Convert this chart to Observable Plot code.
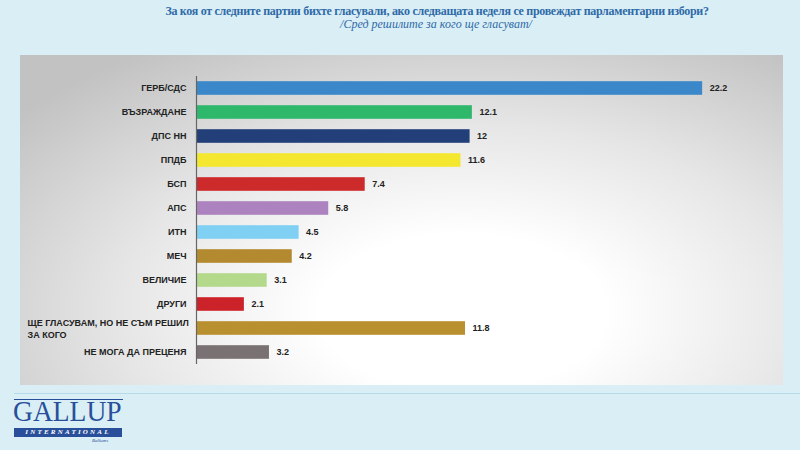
<!DOCTYPE html>
<html>
<head>
<meta charset="utf-8">
<script src="https://cdn.jsdelivr.net/npm/d3@7"></script>
<script src="https://cdn.jsdelivr.net/npm/@observablehq/plot@0.6"></script>
<style>
  html, body { margin: 0; padding: 0; }
  body { width: 800px; height: 450px; background: #d9eef5; position: relative; overflow: hidden; font-family: "Liberation Sans", Arial, sans-serif; }
  #title { position: absolute; left: 0; width: 874px; top: 4px; text-align: center; color: #2f6aa8; font-family: "Liberation Serif", serif; font-weight: bold; font-size: 12px; letter-spacing: -0.3px; }
  #subtitle { position: absolute; left: 0; width: 872px; top: 17px; text-align: center; color: #2f6aa8; font-family: "Liberation Serif", serif; font-style: italic; font-size: 12px; }
  #panel { position: absolute; left: 20px; top: 55px; width: 763px; height: 330px;
    background: radial-gradient(ellipse 75% 95% at 58% 78%, #ffffff 25%, #e6e6e6 60%, #c2c2c2 100%); }
  #sep { position: absolute; left: 14px; top: 393px; width: 786px; height: 1px; background: #b6dbe8; }
  .lg { position: absolute; }
  #lbar { left: 14px; top: 399px; width: 109px; height: 1px; background: #2a4f9a; }
  #lg { left: 13px; top: 400.5px; font-family: "Liberation Serif", serif; color: #2a4f9a; font-size: 29px; line-height: 21px; height: 21px; transform: scaleX(0.95); transform-origin: left top; }
  #li { left: 14px; top: 428px; width: 108px; height: 9px; background: #2a4f9a; color: #fff; font-family: "Liberation Serif", serif; font-style: italic; font-weight: bold; font-size: 7px; letter-spacing: 2.2px; text-align: center; line-height: 9px; }
  #lb { left: 92px; top: 438px; font-family: "Liberation Serif", serif; font-style: italic; font-size: 5px; line-height: 6px; color: #2a4f9a; }
</style>
</head>
<body>
<div id="title">За коя от следните партии бихте  гласували,  ако следващата неделя се провеждат парламентарни избори?</div>
<div id="subtitle">/Сред решилите за кого ще гласуват/</div>
<div id="panel"></div>
<div id="sep"></div>
<div class="lg" id="lbar"></div>
<div class="lg" id="lg">GALLUP</div>
<div class="lg" id="li">INTERNATIONAL</div>
<div class="lg" id="lb">Balkans</div>
<script>
const parties = ["ГЕРБ/СДС", "ВЪЗРАЖДАНЕ", "ДПС НН", "ППДБ", "БСП", "АПС", "ИТН", "МЕЧ", "ВЕЛИЧИЕ", "ДРУГИ", "ЩЕ ГЛАСУВАМ, НО НЕ СЪМ РЕШИЛ\nЗА КОГО", "НЕ МОГА ДА ПРЕЦЕНЯ"];
const values = [22.2, 12.1, 12, 11.6, 7.4, 5.8, 4.5, 4.2, 3.1, 2.1, 11.8, 3.2];
const valueLabels = ["22.2", "12.1", "12", "11.6", "7.4", "5.8", "4.5", "4.2", "3.1", "2.1", "11.8", "3.2"];
const colors = ["#3a88c9", "#2fb86b", "#233f7a", "#f3e82f", "#cc2a2b", "#ad83bf", "#80d0f3", "#b38a2f", "#b4d98b", "#cc2229", "#b8902f", "#7a7272"];

const data = parties.map((p, i) => ({party: p, value: values[i], label: valueLabels[i], multi: p.includes("\n")}));

const chart = Plot.plot({
  width: 763,
  height: 330,
  marginLeft: 176,
  marginRight: 17,
  marginTop: 21,
  marginBottom: 21,
  style: {background: "transparent", fontFamily: "'Liberation Sans', Arial, sans-serif"},
  x: {domain: [0, 25], axis: null},
  y: {domain: parties, padding: 0, axis: null},
  color: {domain: parties, range: colors},
  marks: [
    Plot.barX(data, {x: "value", y: "party", fill: "party", insetTop: 5.2, insetBottom: 5.2}),
    Plot.ruleX([0], {stroke: "#666", strokeWidth: 1.2}),
    Plot.text(data.filter(d => !d.multi), {x: 0, y: "party", text: "party", textAnchor: "end", dx: -10, fontWeight: "bold", fontSize: 9, fill: "#222"}),
    Plot.text(data.filter(d => d.multi), {x: 0, y: "party", text: "party", textAnchor: "start", dx: -169, fontWeight: "bold", fontSize: 9, fill: "#222", lineHeight: 1.25}),
    Plot.text(data, {x: "value", y: "party", text: "label", textAnchor: "start", dx: 7, fontWeight: "bold", fontSize: 9, fill: "#222"})
  ]
});
chart.style.position = "absolute";
chart.style.left = "20px";
chart.style.top = "55px";
document.body.appendChild(chart);
</script>
</body>
</html>
